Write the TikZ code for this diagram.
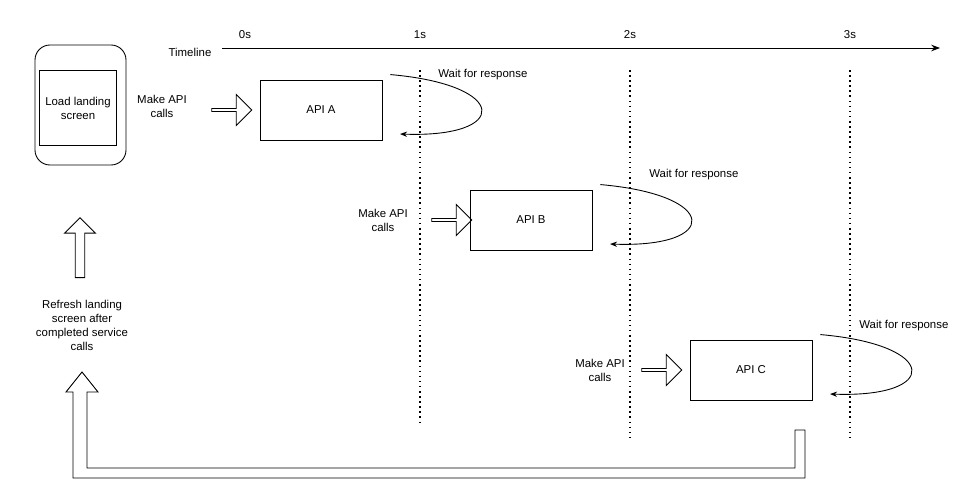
\documentclass[tikz,border=0pt]{standalone}
\usepackage{fontspec}
\setmainfont{Liberation Sans}
\usetikzlibrary{shapes.arrows, arrows.meta}
\tikzset{
  lbl/.style={font=\fontsize{6.5}{8}\selectfont, align=center},
  api/.style={draw, lbl, minimum width=2.44cm, minimum height=1.2cm},
  call/.style={single arrow, draw, minimum height=0.8cm, minimum width=0.62cm, single arrow head extend=0.08cm, inner sep=0pt},
  tick/.style={dotted, line width=0.9pt},
  wait/.style={-{Stealth[length=4pt]}, line width=0.5pt}
}
\begin{document}
\begin{tikzpicture}[x=0.02cm, y=-0.02cm, line width=0.5pt]
        \useasboundingbox (0,0) rectangle (980,501);

        % Phone
        \draw[rounded corners=0.3cm] (35,45) rectangle (126,165);
        \node[draw, lbl, minimum width=1.5cm, minimum height=1.5cm] (screen) at (78,108) {Load landing\\screen};

        % Timeline
        \node[lbl] (tl) at (190,52) {Timeline};
        \coordinate (tstart) at (222,48);
        \coordinate (tend) at (940,48);
        \draw[-{Stealth[length=5pt]}] (tstart) -- (tend);
        \node[lbl] (t0) at (245,35) {0s};
        \node[lbl] (t1) at (420,35) {1s};
        \node[lbl] (t2) at (630,35) {2s};
        \node[lbl] (t3) at (850,35) {3s};
        \draw[tick] (420,70) -- (420,425);
        \draw[tick] (630,70) -- (630,440);
        \draw[tick] (850,70) -- (850,440);

        % API calls
        \node[api] (apiA) at (321,110) {API A};
        \node[api] (apiB) at (531,220) {API B};
        \node[api] (apiC) at (751,370) {API C};
        \node[lbl] (mkA) at (162,106) {Make API\\calls};
        \node[lbl] (mkB) at (383,220) {Make API\\calls};
        \node[lbl] (mkC) at (600,370) {Make API\\calls};
        \node[call] (arA) at (231,110) {};
        \node[call] (arB) at (451,220) {};
        \node[call] (arC) at (661,370) {};

        % Waiting
        \node[lbl, anchor=west] (wA) at (432,75) {Wait for response};
        \node[lbl, anchor=west] (wB) at (643,175) {Wait for response};
        \node[lbl, anchor=west] (wC) at (853,326) {Wait for response};
        \draw[wait] ([xshift=0.16cm]apiA.north east) ++(0,0.1cm) .. controls (510,85) and (510,138) .. (400,134);
        \draw[wait] ([xshift=0.16cm]apiB.north east) ++(0,0.1cm) .. controls (720,195) and (720,248) .. (610,244);
        \draw[wait] ([xshift=0.16cm]apiC.north east) ++(0,0.1cm) .. controls (940,345) and (940,398) .. (830,394);

        % Refresh
        \node[single arrow, draw, shape border rotate=90, minimum height=1.2cm, minimum width=0.62cm, single arrow head extend=0.02cm, inner sep=0pt] (up) at (80,250) {};
        \node[lbl] (refresh) at (82,325) {Refresh landing\\screen after\\completed service\\calls};
        \draw (795,430) -- (805,430) -- (805,478) -- (73,478) -- (73,392) -- (66,392)
              -- (82,372) -- (98,392) -- (87,392) -- (87,468) -- (795,468) -- cycle;
\end{tikzpicture}
\end{document}
